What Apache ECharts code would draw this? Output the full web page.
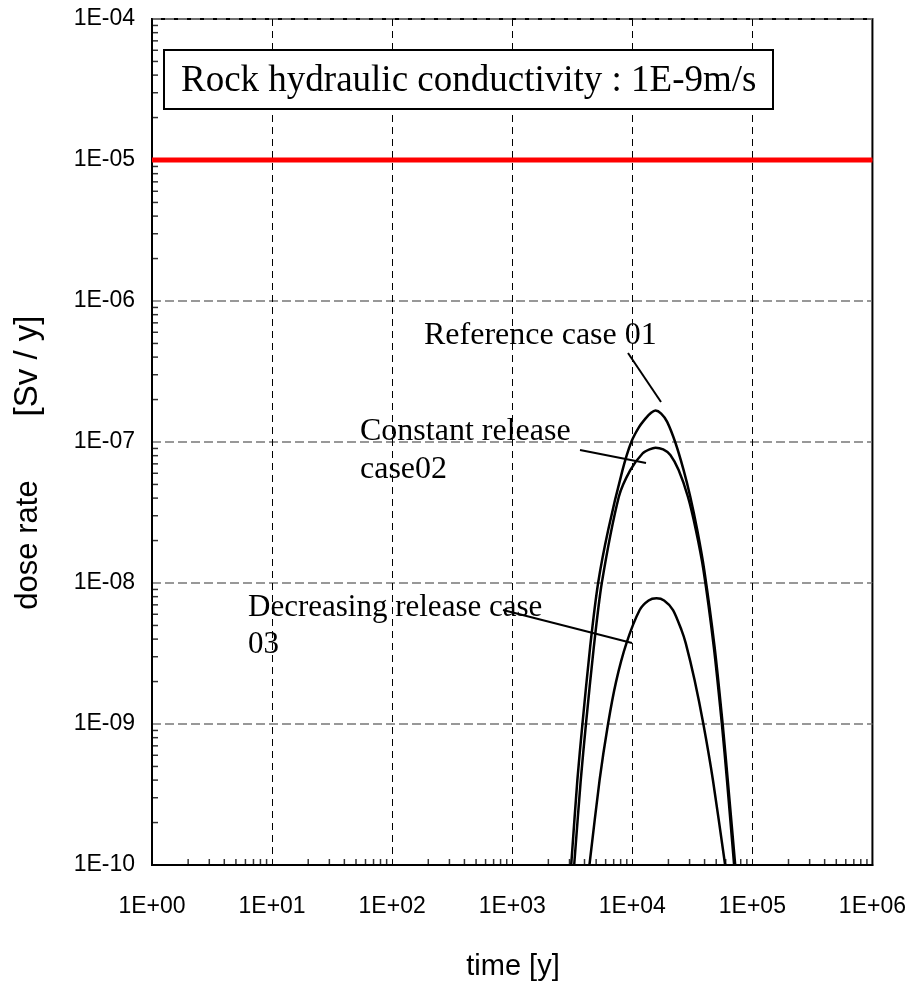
<!DOCTYPE html>
<html>
<head>
<meta charset="utf-8">
<script src="https://cdn.jsdelivr.net/npm/echarts@6/dist/echarts.min.js"></script>
<style>
html,body{margin:0;padding:0;background:#fff;overflow:hidden;}
#chart{width:909px;height:988px;}
</style>
</head>
<body>
<div id="chart"></div>
<script>
// ---- data ----
const xTickLabels = ['1E+00','1E+01','1E+02','1E+03','1E+04','1E+05','1E+06'];
const yTickLabels = ['1E-10','1E-09','1E-08','1E-07','1E-06','1E-05','1E-04'];

const limitDose = 1e-5;                 // red reference line
const limitTime = [1, 1e6];

const refTime  = [3099, 3489, 3839, 4457, 5194, 6300, 8292, 9755, 11280, 12920, 14350, 15610,
                  17400, 19520, 22870, 26760, 30410, 34760, 39740, 48470, 56680, 62370, 72000];
const refDose  = [1e-10, 4.01e-10, 9.84e-10, 3.52e-9, 1.0e-8, 2.38e-8, 6.32e-8, 9.88e-8, 1.26e-7, 1.47e-7, 1.61e-7, 1.67e-7,
                  1.59e-7, 1.39e-7, 9.88e-8, 6.32e-8, 4.09e-8, 2.38e-8, 1.24e-8, 3.52e-9, 9.84e-10, 4.01e-10, 1e-10];

const constTime = [3282, 3724, 4106, 4783, 5573, 7727, 9625, 12220, 13920, 15610,
                   18080, 20750, 24320, 29050, 33850, 39130, 47730, 55830, 61430, 70480];
const constDose = [1e-10, 4.01e-10, 9.84e-10, 3.52e-9, 1.0e-8, 4.09e-8, 6.32e-8, 8.32e-8, 8.87e-8, 9.12e-8,
                   8.85e-8, 8.09e-8, 6.32e-8, 4.09e-8, 2.38e-8, 1.24e-8, 3.52e-9, 9.84e-10, 4.01e-10, 1e-10];

const decrTime = [4397, 5344, 6262, 7323, 8933, 11520, 13680, 15910,
                  18400, 21850, 25660, 27900, 33020, 39220, 46940, 59340];
const decrDose = [1e-10, 4.01e-10, 9.84e-10, 1.99e-9, 3.73e-9, 6.43e-9, 7.52e-9, 7.79e-9,
                  7.52e-9, 6.43e-9, 4.65e-9, 3.73e-9, 2.05e-9, 9.84e-10, 4.01e-10, 1e-10];

const minorMultipliers = [2, 3, 4, 5, 6, 7, 8, 9];

// ---- build ----
const zip = (a, b) => a.map((v, i) => [v, b[i]]);
const xMinor = [], yMinor = [];
for (let k = 0; k < 6; k++) minorMultipliers.forEach(m => xMinor.push([m * Math.pow(10, k), 1e-10]));
for (let k = -10; k < -4; k++) minorMultipliers.forEach(m => yMinor.push([1, m * Math.pow(10, k)]));

const tickFont = "'Liberation Sans', Arial, sans-serif";
const serif = "'Liberation Serif', 'Times New Roman', serif";
const sans = "'Liberation Sans', Arial, sans-serif";

const curveStyle = { color: '#000', width: 2.5 };

const chart = echarts.init(document.getElementById('chart'));
chart.setOption({
  animation: false,
  backgroundColor: '#fff',
  grid: { left: 152, top: 19, width: 723, height: 846, show: true, borderColor: '#000', borderWidth: 2, backgroundColor: 'transparent' },
  xAxis: {
    type: 'log', logBase: 10, min: 1, max: 1e6, interval: 1,
    axisLine: { show: true, lineStyle: { color: '#000', width: 2 } },
    axisTick: { show: false },
    axisLabel: {
      margin: 30, color: '#000', fontSize: 23, fontFamily: tickFont,
      formatter: v => xTickLabels[Math.round(Math.log10(v))]
    },
    splitLine: { show: true, lineStyle: { color: '#000', width: 1, type: [7, 5] } }
  },
  yAxis: {
    type: 'log', logBase: 10, min: 1e-10, max: 1e-4, interval: 1,
    axisLine: { show: true, lineStyle: { color: '#000', width: 2 } },
    axisTick: { show: false },
    axisLabel: {
      margin: 17, color: '#000', fontSize: 23, fontFamily: tickFont,
      formatter: v => yTickLabels[Math.round(Math.log10(v)) + 10]
    },
    splitLine: { show: true, lineStyle: { color: '#777', width: 1.5, type: [9, 4] } }
  },
  series: [
    { type: 'line', name: 'limit', data: zip(limitTime, [limitDose, limitDose]), symbol: 'none',
      lineStyle: { color: '#ff0000', width: 5 }, z: 5 },
    { type: 'line', name: 'Reference case 01', data: zip(refTime, refDose), symbol: 'none', smooth: 0.25, lineStyle: curveStyle },
    { type: 'line', name: 'Constant release case02', data: zip(constTime, constDose), symbol: 'none', smooth: 0.25, lineStyle: curveStyle },
    { type: 'line', name: 'Decreasing release case 03', data: zip(decrTime, decrDose), symbol: 'none', smooth: 0.25, lineStyle: curveStyle },
    { type: 'scatter', data: xMinor, symbol: 'rect', symbolSize: [1.5, 6], symbolOffset: [0, -3],
      itemStyle: { color: '#000' }, clip: false, silent: true },
    { type: 'scatter', data: yMinor, symbol: 'rect', symbolSize: [6, 1.5], symbolOffset: [3, 0],
      itemStyle: { color: '#000' }, clip: false, silent: true }
  ],
  graphic: [
    { type: 'rect', shape: { x: 164, y: 50, width: 609, height: 59 }, style: { fill: '#fff', stroke: '#000', lineWidth: 2 }, z: 100 },
    { type: 'text', x: 181, y: 81, z: 101, style: { text: 'Rock hydraulic conductivity : 1E-9m/s', font: "37px " + serif, fill: '#000', verticalAlign: 'middle' } },

    { type: 'text', x: 424, y: 336, z: 101, style: { text: 'Reference case 01', font: "32px " + serif, fill: '#000', verticalAlign: 'middle' } },
    { type: 'line', shape: { x1: 628, y1: 353, x2: 661, y2: 402 }, style: { stroke: '#000', lineWidth: 2 }, z: 101 },

    { type: 'text', x: 360, y: 432, z: 101, style: { text: 'Constant release', font: "32px " + serif, fill: '#000', verticalAlign: 'middle' } },
    { type: 'text', x: 360, y: 470, z: 101, style: { text: 'case02', font: "32px " + serif, fill: '#000', verticalAlign: 'middle' } },
    { type: 'line', shape: { x1: 580, y1: 450, x2: 646, y2: 463 }, style: { stroke: '#000', lineWidth: 2 }, z: 101 },

    { type: 'text', x: 248, y: 608, z: 101, style: { text: 'Decreasing release case', font: "31px " + serif, fill: '#000', verticalAlign: 'middle' } },
    { type: 'text', x: 248, y: 645, z: 101, style: { text: '03', font: "31px " + serif, fill: '#000', verticalAlign: 'middle' } },
    { type: 'line', shape: { x1: 503, y1: 610, x2: 632, y2: 643 }, style: { stroke: '#000', lineWidth: 2 }, z: 101 },

    { type: 'text', x: 28, y: 545, rotation: Math.PI / 2, z: 101, style: { text: 'dose rate', font: "31px " + sans, fill: '#000', align: 'center', verticalAlign: 'middle' } },
    { type: 'text', x: 28, y: 366, rotation: Math.PI / 2, z: 101, style: { text: '[Sv / y]', font: "33px " + sans, fill: '#000', align: 'center', verticalAlign: 'middle' } },
    { type: 'text', x: 513, y: 967, z: 101, style: { text: 'time [y]', font: "29px " + sans, fill: '#000', align: 'center', verticalAlign: 'middle' } }
  ]
});
</script>
</body>
</html>
